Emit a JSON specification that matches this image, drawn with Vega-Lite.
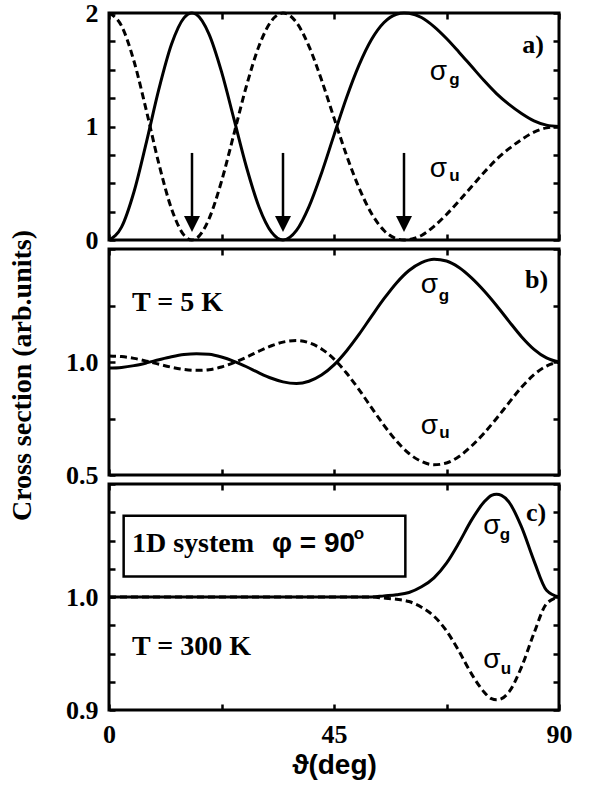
{
 "$schema": "https://vega.github.io/schema/vega-lite/v6.json",
 "background": "white",
 "padding": {"left": 6, "top": -2, "right": 0, "bottom": 0},
 "spacing": 9,
 "bounds": "flush",
 "config": {
  "view": {"stroke": "black", "strokeWidth": 3},
  "axis": {"domain": false, "grid": false, "ticks": true, "tickColor": "black", "tickWidth": 2.5, "tickSize": -6,
   "labelFont": "Liberation Serif", "labelFontWeight": "bold", "labelFontSize": 26, "labelColor": "black",
   "labelFlush": false, "labelOverlap": false},
  "axisLeft": {"labelPadding": 17},
  "axisBottom": {"labelPadding": 17}
 },
 "datasets": {
  "a": [
   {"t":0,"g":0,"u":2},{"t":2.5,"g":0.113,"u":1.887},{"t":5,"g":0.425,"u":1.575},{"t":7.5,"g":0.865,"u":1.135},
   {"t":10,"g":1.333,"u":0.667},{"t":12.5,"g":1.724,"u":0.276},{"t":15,"g":1.957,"u":0.043},{"t":16.6,"g":2.0,"u":0.0},
   {"t":17.5,"g":1.986,"u":0.014},{"t":20,"g":1.814,"u":0.186},{"t":22.5,"g":1.483,"u":0.517},{"t":25,"g":1.064,"u":0.936},
   {"t":27.5,"g":0.641,"u":1.359},{"t":30,"g":0.291,"u":1.709},{"t":32.5,"g":0.069,"u":1.931},{"t":34.8,"g":0,"u":2},
   {"t":37.5,"g":0.084,"u":1.916},{"t":40,"g":0.294,"u":1.706},{"t":42.5,"g":0.589,"u":1.411},{"t":45,"g":0.924,"u":1.076},
   {"t":47.5,"g":1.253,"u":0.747},{"t":50,"g":1.54,"u":0.46},{"t":52.5,"g":1.766,"u":0.234},{"t":55,"g":1.916,"u":0.084},
   {"t":57.5,"g":1.989,"u":0.011},{"t":59,"g":2.0,"u":0.0},{"t":60,"g":1.997,"u":0.003},{"t":62.5,"g":1.96,"u":0.04},
   {"t":65,"g":1.88,"u":0.12},{"t":67.5,"g":1.775,"u":0.225},{"t":70,"g":1.655,"u":0.345},{"t":72.5,"g":1.53,"u":0.47},
   {"t":75,"g":1.405,"u":0.595},{"t":77.5,"g":1.29,"u":0.71},{"t":80,"g":1.195,"u":0.805},{"t":82.5,"g":1.115,"u":0.885},
   {"t":85,"g":1.05,"u":0.95},{"t":87.5,"g":1.012,"u":0.988},{"t":90,"g":1.0,"u":1.0}
  ],
  "b": [
   {"t":0,"g":0.973,"u":1.027},{"t":2.5,"g":0.976,"u":1.024},{"t":5,"g":0.984,"u":1.016},{"t":7.5,"g":0.996,"u":1.004},
   {"t":10,"g":1.01,"u":0.99},{"t":12.5,"g":1.023,"u":0.977},{"t":15,"g":1.033,"u":0.967},{"t":17.5,"g":1.037,"u":0.963},
   {"t":20,"g":1.034,"u":0.966},{"t":22.5,"g":1.022,"u":0.978},{"t":25,"g":1.003,"u":0.997},{"t":27.5,"g":0.979,"u":1.021},
   {"t":30,"g":0.952,"u":1.048},{"t":32.5,"g":0.928,"u":1.072},{"t":34.8,"g":0.912,"u":1.088},{"t":37.5,"g":0.905,"u":1.095},
   {"t":40,"g":0.915,"u":1.085},{"t":42.5,"g":0.942,"u":1.058},{"t":45,"g":0.987,"u":1.013},{"t":47.5,"g":1.049,"u":0.951},
   {"t":50,"g":1.122,"u":0.878},{"t":52.5,"g":1.202,"u":0.798},{"t":55,"g":1.28,"u":0.72},{"t":57.5,"g":1.35,"u":0.65},
   {"t":60,"g":1.405,"u":0.595},{"t":62.5,"g":1.44,"u":0.56},{"t":65,"g":1.455,"u":0.545},{"t":67.5,"g":1.447,"u":0.553},
   {"t":70,"g":1.418,"u":0.582},{"t":72.5,"g":1.372,"u":0.628},{"t":75,"g":1.315,"u":0.685},{"t":77.5,"g":1.25,"u":0.75},
   {"t":80,"g":1.18,"u":0.82},{"t":82.5,"g":1.112,"u":0.888},{"t":85,"g":1.056,"u":0.944},{"t":87.5,"g":1.018,"u":0.982},
   {"t":90,"g":1.0,"u":1.0}
  ],
  "c": [
   {"t":0,"g":1.0,"u":1.0},{"t":30,"g":1.0,"u":1.0},{"t":50,"g":1.0,"u":1.0},{"t":52.5,"g":1.0,"u":1.0},
   {"t":55,"g":1.001,"u":0.999},{"t":57.5,"g":1.002,"u":0.998},{"t":60,"g":1.004,"u":0.996},{"t":62.5,"g":1.009,"u":0.991},
   {"t":65,"g":1.017,"u":0.983},{"t":67.5,"g":1.03,"u":0.97},{"t":70,"g":1.048,"u":0.952},{"t":72.5,"g":1.068,"u":0.932},
   {"t":75,"g":1.084,"u":0.916},{"t":76.5,"g":1.09,"u":0.91},{"t":77.5,"g":1.091,"u":0.909},{"t":78.5,"g":1.09,"u":0.91},
   {"t":80,"g":1.084,"u":0.916},{"t":82.5,"g":1.062,"u":0.938},{"t":85,"g":1.032,"u":0.968},{"t":87.5,"g":1.006,"u":0.994},
   {"t":90,"g":1.0,"u":1.0}
  ],
  "arrows": [
   {"t":16.6,"y1":0.767,"y2":0.15,"h":0.141},
   {"t":34.8,"y1":0.767,"y2":0.15,"h":0.141},
   {"t":59.0,"y1":0.767,"y2":0.15,"h":0.141}
  ],
  "box": [{"x1":2.93,"x2":59.27,"y1":1.0181,"y2":1.0719}],
  "txt": [
   {"p":"a","k":"lbl","t":84.8,"v":1.72,"s":"a)"},
   {"p":"a","k":"sig","t":65.9,"v":1.476,"s":"σ"},
   {"p":"a","k":"sub","t":69.1,"v":1.413,"s":"g"},
   {"p":"a","k":"sig","t":65.9,"v":0.626,"s":"σ"},
   {"p":"a","k":"sub","t":69.1,"v":0.56,"s":"u"},
   {"p":"b","k":"lbl","t":85.5,"v":1.363,"s":"b)"},
   {"p":"b","k":"note","t":4.6,"v":1.263,"s":"T = 5 K"},
   {"p":"b","k":"sig","t":64.1,"v":1.339,"s":"σ"},
   {"p":"b","k":"sub","t":67.0,"v":1.292,"s":"g"},
   {"p":"b","k":"sig","t":64.1,"v":0.719,"s":"σ"},
   {"p":"b","k":"sub","t":67.1,"v":0.684,"s":"u"},
   {"p":"c","k":"lbl","t":85.4,"v":1.074,"s":"c)"},
   {"p":"c","k":"sig","t":76.6,"v":1.0631,"s":"σ"},
   {"p":"c","k":"sub","t":79.2,"v":1.0545,"s":"g"},
   {"p":"c","k":"sig","t":76.6,"v":0.9445,"s":"σ"},
   {"p":"c","k":"sub","t":79.4,"v":0.9366,"s":"u"},
   {"p":"c","k":"note","t":4.6,"v":0.956,"s":"T = 300 K"},
   {"p":"c","k":"note","t":4.6,"v":1.0466,"s":"1D system"},
   {"p":"c","k":"phi","t":32.6,"v":1.0466,"s":"φ = 90"},
   {"p":"c","k":"sup","t":50.0,"v":1.0555,"s":"o"}
  ]
 },
 "vconcat": [
  {
   "width": 450, "height": 227,
   "layer": [
    {"data": {"name": "a"}, "mark": {"type": "line", "stroke": "black", "strokeWidth": 3, "interpolate": "monotone"},
     "encoding": {
      "x": {"field": "t", "type": "quantitative", "scale": {"domain": [0, 90], "nice": false, "zero": false},
            "axis": {"orient": "bottom", "values": [0, 22.5, 45, 67.5, 90], "labels": false, "title": null}},
      "y": {"field": "g", "type": "quantitative", "scale": {"domain": [0, 2], "nice": false, "zero": false},
            "axis": {"orient": "left", "values": [0, 0.25, 0.5, 0.75, 1, 1.25, 1.5, 1.75, 2],
                     "labelExpr": "datum.value == 0 || datum.value == 1 || datum.value == 2 ? format(datum.value, 'd') : ''", "title": null}}}},
    {"data": {"name": "a"}, "mark": {"type": "line", "stroke": "black", "strokeWidth": 3, "strokeDash": [7, 4], "interpolate": "monotone"},
     "encoding": {
      "x": {"field": "t", "type": "quantitative", "axis": {"orient": "top", "values": [0, 22.5, 45, 67.5, 90], "labels": false, "title": null}},
      "y": {"field": "u", "type": "quantitative", "axis": {"orient": "right", "values": [0, 0.25, 0.5, 0.75, 1, 1.25, 1.5, 1.75, 2], "labels": false, "title": null}}}},
    {"data": {"name": "arrows"}, "mark": {"type": "rule", "stroke": "black", "strokeWidth": 2.5},
     "encoding": {"x": {"field": "t", "type": "quantitative", "axis": null}, "y": {"field": "y1", "type": "quantitative", "axis": null}, "y2": {"field": "y2"}}},
    {"data": {"name": "arrows"}, "mark": {"type": "point", "shape": "M-1,-1L1,-1L0,1Z", "filled": true, "fill": "black", "opacity": 1, "size": 256, "strokeWidth": 0},
     "encoding": {"x": {"field": "t", "type": "quantitative", "axis": null}, "y": {"field": "h", "type": "quantitative", "axis": null}}},
    {"data": {"name": "txt"}, "transform": [{"filter": "datum.p == 'a' && datum.k == 'lbl'"}],
     "mark": {"type": "text", "font": "Liberation Serif", "fontWeight": "bold", "fontSize": 26, "align": "center", "baseline": "middle", "fill": "black"},
     "encoding": {"x": {"field": "t", "type": "quantitative", "axis": null}, "y": {"field": "v", "type": "quantitative", "axis": null}, "text": {"field": "s"}}},
    {"data": {"name": "txt"}, "transform": [{"filter": "datum.p == 'a' && datum.k == 'sig'"}],
     "mark": {"type": "text", "font": "Liberation Sans", "fontSize": 28, "align": "center", "baseline": "middle", "fill": "black"},
     "encoding": {"x": {"field": "t", "type": "quantitative", "axis": null}, "y": {"field": "v", "type": "quantitative", "axis": null}, "text": {"field": "s"}}},
    {"data": {"name": "txt"}, "transform": [{"filter": "datum.p == 'a' && datum.k == 'sub'"}],
     "mark": {"type": "text", "font": "Liberation Sans", "fontWeight": "bold", "fontSize": 17, "align": "center", "baseline": "middle", "fill": "black"},
     "encoding": {"x": {"field": "t", "type": "quantitative", "axis": null}, "y": {"field": "v", "type": "quantitative", "axis": null}, "text": {"field": "s"}}}
   ],
   "resolve": {"axis": {"x": "independent", "y": "independent"}}
  },
  {
   "width": 450, "height": 226,
   "layer": [
    {"data": {"name": "b"}, "mark": {"type": "line", "stroke": "black", "strokeWidth": 3, "interpolate": "monotone"},
     "encoding": {
      "x": {"field": "t", "type": "quantitative", "scale": {"domain": [0, 90], "nice": false, "zero": false},
            "axis": {"orient": "bottom", "values": [0, 22.5, 45, 67.5, 90], "labels": false, "title": null}},
      "y": {"field": "g", "type": "quantitative", "scale": {"domain": [0.5, 1.5], "nice": false, "zero": false},
            "axis": {"orient": "left", "values": [0.5, 0.75, 1, 1.25, 1.5],
                     "labelExpr": "datum.value == 1 || datum.value == 0.5 ? format(datum.value, '.1f') : ''",
                     "title": "Cross section (arb.units)", "titleFont": "Liberation Serif", "titleFontWeight": "bold", "titleFontSize": 28,
                     "titleColor": "black", "titleX": -87, "titleY": 126, "titleAngle": -90, "titleAlign": "center", "titleBaseline": "middle"}}}},
    {"data": {"name": "b"}, "mark": {"type": "line", "stroke": "black", "strokeWidth": 3, "strokeDash": [7, 4], "interpolate": "monotone"},
     "encoding": {
      "x": {"field": "t", "type": "quantitative", "axis": {"orient": "top", "values": [0, 22.5, 45, 67.5, 90], "labels": false, "title": null}},
      "y": {"field": "u", "type": "quantitative", "axis": {"orient": "right", "values": [0.5, 0.75, 1, 1.25, 1.5], "labels": false, "title": null}}}},
    {"data": {"name": "txt"}, "transform": [{"filter": "datum.p == 'b' && datum.k == 'lbl'"}],
     "mark": {"type": "text", "font": "Liberation Serif", "fontWeight": "bold", "fontSize": 26, "align": "center", "baseline": "middle", "fill": "black"},
     "encoding": {"x": {"field": "t", "type": "quantitative", "axis": null}, "y": {"field": "v", "type": "quantitative", "axis": null}, "text": {"field": "s"}}},
    {"data": {"name": "txt"}, "transform": [{"filter": "datum.p == 'b' && datum.k == 'note'"}],
     "mark": {"type": "text", "font": "Liberation Serif", "fontWeight": "bold", "fontSize": 28, "align": "left", "baseline": "middle", "fill": "black"},
     "encoding": {"x": {"field": "t", "type": "quantitative", "axis": null}, "y": {"field": "v", "type": "quantitative", "axis": null}, "text": {"field": "s"}}},
    {"data": {"name": "txt"}, "transform": [{"filter": "datum.p == 'b' && datum.k == 'sig'"}],
     "mark": {"type": "text", "font": "Liberation Sans", "fontSize": 28, "align": "center", "baseline": "middle", "fill": "black"},
     "encoding": {"x": {"field": "t", "type": "quantitative", "axis": null}, "y": {"field": "v", "type": "quantitative", "axis": null}, "text": {"field": "s"}}},
    {"data": {"name": "txt"}, "transform": [{"filter": "datum.p == 'b' && datum.k == 'sub'"}],
     "mark": {"type": "text", "font": "Liberation Sans", "fontWeight": "bold", "fontSize": 17, "align": "center", "baseline": "middle", "fill": "black"},
     "encoding": {"x": {"field": "t", "type": "quantitative", "axis": null}, "y": {"field": "v", "type": "quantitative", "axis": null}, "text": {"field": "s"}}}
   ],
   "resolve": {"axis": {"x": "independent", "y": "independent"}}
  },
  {
   "width": 450, "height": 226,
   "layer": [
    {"data": {"name": "box"}, "mark": {"type": "rect", "fill": "white", "stroke": "black", "strokeWidth": 2.5},
     "encoding": {"x": {"field": "x1", "type": "quantitative", "axis": null, "scale": {"domain": [0, 90], "nice": false, "zero": false}}, "x2": {"field": "x2"},
                  "y": {"field": "y1", "type": "quantitative", "axis": null, "scale": {"domain": [0.9, 1.1], "nice": false, "zero": false}}, "y2": {"field": "y2"}}},
    {"data": {"name": "c"}, "mark": {"type": "line", "stroke": "black", "strokeWidth": 3, "interpolate": "monotone"},
     "encoding": {
      "x": {"field": "t", "type": "quantitative", "scale": {"domain": [0, 90], "nice": false, "zero": false},
            "axis": {"orient": "bottom", "values": [0, 22.5, 45, 67.5, 90],
                     "labelExpr": "datum.value == 0 || datum.value == 45 || datum.value == 90 ? format(datum.value, 'd') : ''",
                     "title": "ϑ(deg)", "titleFont": "Liberation Sans", "titleFontWeight": "bold", "titleFontSize": 28, "titleColor": "black", "titlePadding": 4}},
      "y": {"field": "g", "type": "quantitative", "scale": {"domain": [0.9, 1.1], "nice": false, "zero": false},
            "axis": {"orient": "left", "values": [0.9, 0.925, 0.95, 0.975, 1, 1.025, 1.05, 1.075, 1.1],
                     "labelExpr": "datum.value == 1 || datum.value == 0.9 ? format(datum.value, '.1f') : ''", "title": null}}}},
    {"data": {"name": "c"}, "mark": {"type": "line", "stroke": "black", "strokeWidth": 3, "strokeDash": [7, 4], "interpolate": "monotone"},
     "encoding": {
      "x": {"field": "t", "type": "quantitative", "axis": {"orient": "top", "values": [0, 22.5, 45, 67.5, 90], "labels": false, "title": null}},
      "y": {"field": "u", "type": "quantitative", "axis": {"orient": "right", "values": [0.9, 0.925, 0.95, 0.975, 1, 1.025, 1.05, 1.075, 1.1], "labels": false, "title": null}}}},
    {"data": {"name": "txt"}, "transform": [{"filter": "datum.p == 'c' && datum.k == 'lbl'"}],
     "mark": {"type": "text", "font": "Liberation Serif", "fontWeight": "bold", "fontSize": 26, "align": "center", "baseline": "middle", "fill": "black"},
     "encoding": {"x": {"field": "t", "type": "quantitative", "axis": null}, "y": {"field": "v", "type": "quantitative", "axis": null}, "text": {"field": "s"}}},
    {"data": {"name": "txt"}, "transform": [{"filter": "datum.p == 'c' && datum.k == 'note'"}],
     "mark": {"type": "text", "font": "Liberation Serif", "fontWeight": "bold", "fontSize": 28, "align": "left", "baseline": "middle", "fill": "black"},
     "encoding": {"x": {"field": "t", "type": "quantitative", "axis": null}, "y": {"field": "v", "type": "quantitative", "axis": null}, "text": {"field": "s"}}},
    {"data": {"name": "txt"}, "transform": [{"filter": "datum.p == 'c' && datum.k == 'phi'"}],
     "mark": {"type": "text", "font": "Liberation Sans", "fontWeight": "bold", "fontSize": 28, "align": "left", "baseline": "middle", "fill": "black"},
     "encoding": {"x": {"field": "t", "type": "quantitative", "axis": null}, "y": {"field": "v", "type": "quantitative", "axis": null}, "text": {"field": "s"}}},
    {"data": {"name": "txt"}, "transform": [{"filter": "datum.p == 'c' && datum.k == 'sup'"}],
     "mark": {"type": "text", "font": "Liberation Sans", "fontWeight": "bold", "fontSize": 17, "align": "center", "baseline": "middle", "fill": "black"},
     "encoding": {"x": {"field": "t", "type": "quantitative", "axis": null}, "y": {"field": "v", "type": "quantitative", "axis": null}, "text": {"field": "s"}}},
    {"data": {"name": "txt"}, "transform": [{"filter": "datum.p == 'c' && datum.k == 'sig'"}],
     "mark": {"type": "text", "font": "Liberation Sans", "fontSize": 28, "align": "center", "baseline": "middle", "fill": "black"},
     "encoding": {"x": {"field": "t", "type": "quantitative", "axis": null}, "y": {"field": "v", "type": "quantitative", "axis": null}, "text": {"field": "s"}}},
    {"data": {"name": "txt"}, "transform": [{"filter": "datum.p == 'c' && datum.k == 'sub'"}],
     "mark": {"type": "text", "font": "Liberation Sans", "fontWeight": "bold", "fontSize": 17, "align": "center", "baseline": "middle", "fill": "black"},
     "encoding": {"x": {"field": "t", "type": "quantitative", "axis": null}, "y": {"field": "v", "type": "quantitative", "axis": null}, "text": {"field": "s"}}}
   ],
   "resolve": {"axis": {"x": "independent", "y": "independent"}}
  }
 ]
}
